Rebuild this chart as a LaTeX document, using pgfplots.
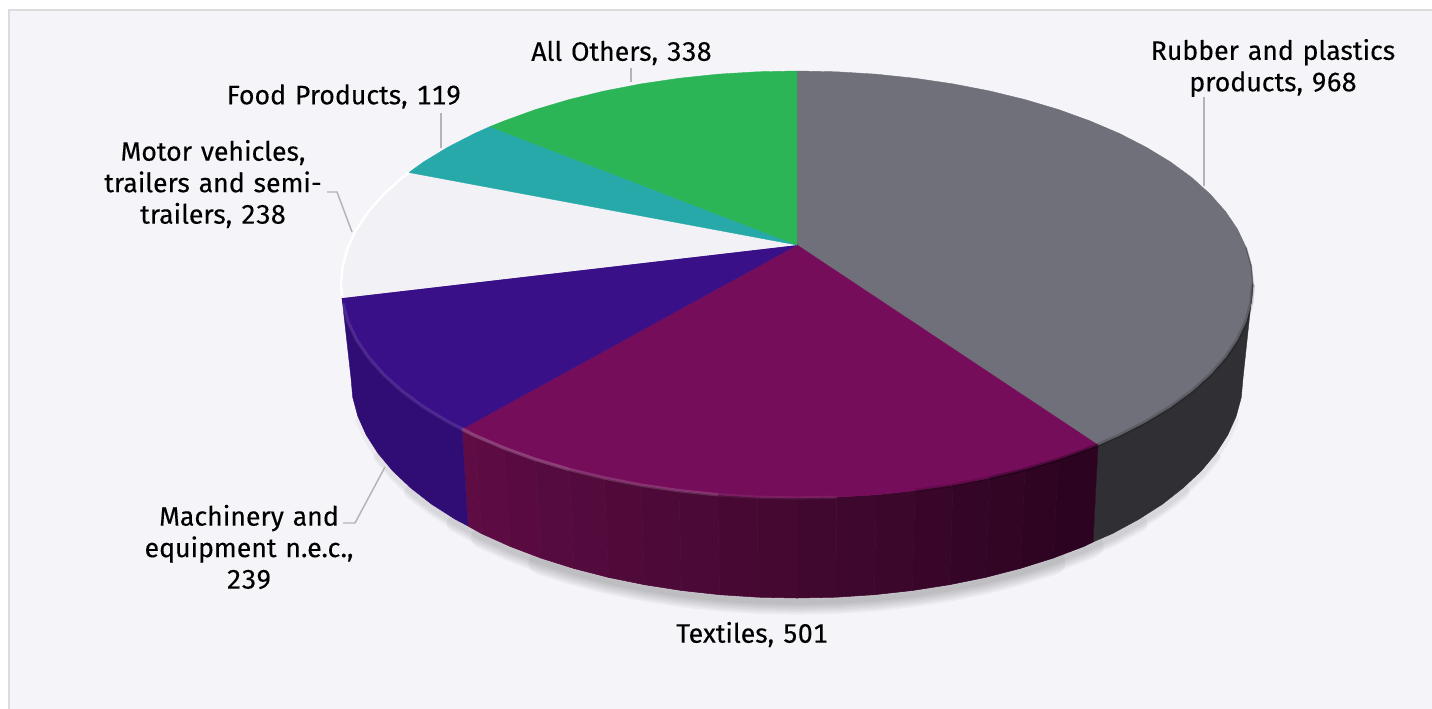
\documentclass[border=0pt]{standalone}
\usepackage{pgfplots}
\pgfplotsset{compat=1.18}
\usepackage{pgfplotstable}
\usepackage{fontspec}
\setmainfont[Numbers=Monospaced,WordSpace=1.25,FakeBold=0.2]{Fira Sans}
\definecolor{bg}{HTML}{F4F4F9}
\definecolor{frame}{HTML}{DCDCDF}
\definecolor{cgray}{HTML}{6F7079}
\definecolor{gside}{HTML}{303034}
\definecolor{ctex}{HTML}{750D5A}
\definecolor{cpur}{HTML}{3A1088}
\definecolor{cwhi}{HTML}{F1F1F6}
\definecolor{cteal}{HTML}{27A9AA}
\definecolor{cgreen}{HTML}{2CB557}
\definecolor{lead}{HTML}{B4B4B6}
\pgfplotstableread{
x y
1243 378
1241.3 397.2
1236.2 416.2
1227.8 434.9
1216.1 453.2
1201.2 471
1183 488
1162.4 504.2
1138.6 519.4
1112.4 533.6
1093 542
1083.7 546.5
1052.8 558.2
1020 568.5
985.5 577.4
949.5 584.7
912.4 590.5
874.4 594.7
835.9 597.2
797 598
758.1 597.2
719.6 594.7
681.6 590.5
644.5 584.7
608.5 577.4
574 568.5
541.2 558.2
510.3 546.5
481.6 533.6
468 526
455.4 519.4
431.6 504.2
410.8 488
392.8 471
377.9 453.2
366.2 434.9
357.8 416.2
352.7 397.2
351 378
}\bottomarc
\newcommand{\side}[2]{\addplot[fill=#1,draw=#1,line width=0.3pt] coordinates {#2} --cycle;}
\newcommand{\strip}[4]{\addplot[fill={rgb,255:red,#1;green,#2;blue,#3},draw={rgb,255:red,#1;green,#2;blue,#3},line width=0.4pt] coordinates {#4} --cycle;}
\newcommand{\shad}[3]{\addplot[draw=black,opacity=0.04,line width=#1pt,line cap=round,skip coords between index={0}{#2},skip coords between index={#3}{39}] table[x=x,y expr=\thisrow{y}+4] {\bottomarc};}
\begin{document}
\begin{tikzpicture}
\begin{axis}[
  scale only axis,width=1074pt,height=531.75pt,
  xmin=0,xmax=1432,ymin=0,ymax=709,y dir=reverse,
  hide axis,
]
% page and panel
\addplot[fill=white,draw=none] coordinates {(0,0)(1432,0)(1432,709)(0,709)} --cycle;
\addplot[fill=bg,draw=frame,line width=1.5pt] coordinates {(8.5,10.5)(1445,10.5)(1445,720)(8.5,720)} --cycle;
% soft shadow
\shad{19}{12}{27}\shad{16}{10}{29}\shad{13}{8}{31}\shad{10}{6}{33}\shad{7}{4}{35}\shad{4}{2}{37}
% gray side
\side{gside}{(1253,284.5)(1251.3,303.1)(1246.1,321.6)(1237.5,339.8)(1225.5,357.5)(1210.3,374.7)(1191.9,391.3)(1170.5,407)(1146.3,421.7)(1119.4,435.5)(1098,445)(1093,542)(1112.4,533.6)(1138.6,519.4)(1162.4,504.2)(1183,488)(1201.2,471)(1216.1,453.2)(1227.8,434.9)(1236.2,416.2)(1241.3,397.2)(1243,378)}
% textile side, strips from right to left
\strip{44}{4}{33}{(1098,445)(1090.1,448)(1058.6,459.4)(1052.8,558.2)(1083.7,546.5)(1093,542)}
\strip{47}{4}{35}{(1058.6,459.4)(1025,469.4)(1020,568.5)(1052.8,558.2)}
\strip{50}{5}{37}{(1025,469.4)(989.7,478)(985.5,577.4)(1020,568.5)}
\strip{53}{5}{39}{(989.7,478)(953,485.1)(949.5,584.7)(985.5,577.4)}
\strip{56}{6}{41}{(953,485.1)(915,490.7)(912.4,590.5)(949.5,584.7)}
\strip{59}{7}{43}{(915,490.7)(876.2,494.8)(874.4,594.7)(912.4,590.5)}
\strip{62}{7}{45}{(876.2,494.8)(836.7,497.2)(835.9,597.2)(874.4,594.7)}
\strip{65}{8}{47}{(836.7,497.2)(797,498)(797,598)(835.9,597.2)}
\strip{68}{8}{49}{(797,498)(757.3,497.2)(758.1,597.2)(797,598)}
\strip{71}{9}{52}{(757.3,497.2)(717.8,494.8)(719.6,594.7)(758.1,597.2)}
\strip{74}{9}{54}{(717.8,494.8)(679,490.7)(681.6,590.5)(719.6,594.7)}
\strip{77}{10}{56}{(679,490.7)(641,485.1)(644.5,584.7)(681.6,590.5)}
\strip{80}{10}{58}{(641,485.1)(604.3,478)(608.5,577.4)(644.5,584.7)}
\strip{83}{10}{60}{(604.3,478)(569,469.4)(574,568.5)(608.5,577.4)}
\strip{86}{11}{62}{(569,469.4)(535.4,459.4)(541.2,558.2)(574,568.5)}
\strip{89}{11}{65}{(535.4,459.4)(503.9,448)(510.3,546.5)(541.2,558.2)}
\strip{92}{11}{67}{(503.9,448)(474.6,435.5)(481.6,533.6)(510.3,546.5)}
\strip{95}{12}{69}{(474.6,435.5)(462,429)(468,526)(481.6,533.6)}
% purple side
\definecolor{pside}{HTML}{300C75}
\side{pside}{(462,429)(447.7,421.7)(423.5,407)(402.1,391.3)(383.7,374.7)(368.5,357.5)(356.5,339.8)(347.9,321.6)(342.7,303.1)(342,298)(351,378)(352.7,397.2)(357.8,416.2)(366.2,434.9)(377.9,453.2)(392.8,471)(410.8,488)(431.6,504.2)(455.4,519.4)(468,526)}
% top slices
\addplot[fill=cgray,draw=cgray,line width=0.3pt] coordinates {(797,245)(797,71)(836.7,71.8)(876.2,74.2)(915,78.3)(953,83.9)(989.7,91)(1025,99.6)(1058.6,109.6)(1090.1,121)(1119.4,133.5)(1146.3,147.3)(1170.5,162)(1191.9,177.7)(1210.3,194.3)(1225.5,211.5)(1237.5,229.2)(1246.1,247.4)(1251.3,265.9)(1253,284.5)(1251.3,303.1)(1246.1,321.6)(1237.5,339.8)(1225.5,357.5)(1210.3,374.7)(1191.9,391.3)(1170.5,407)(1146.3,421.7)(1119.4,435.5)(1098,445)} --cycle;
\addplot[fill=ctex,draw=ctex,line width=0.3pt] coordinates {(797,245)(1098,445)(1090.1,448)(1058.6,459.4)(1025,469.4)(989.7,478)(953,485.1)(915,490.7)(876.2,494.8)(836.7,497.2)(797,498)(757.3,497.2)(717.8,494.8)(679,490.7)(641,485.1)(604.3,478)(569,469.4)(535.4,459.4)(503.9,448)(474.6,435.5)(462,429)} --cycle;
\addplot[fill=cpur,draw=cpur,line width=0.3pt] coordinates {(797,245)(462,429)(447.7,421.7)(423.5,407)(402.1,391.3)(383.7,374.7)(368.5,357.5)(356.5,339.8)(347.9,321.6)(342.7,303.1)(342,298)} --cycle;
\addplot[fill=cwhi,draw=none] coordinates {(797,245)(342,298)(341,284.5)(342.7,265.9)(347.9,247.4)(356.5,229.2)(368.5,211.5)(383.7,194.3)(402.1,177.7)(409,172.5)} --cycle;
\addplot[fill=cteal,draw=cteal,line width=0.3pt] coordinates {(797,245)(409,172.5)(423.5,162)(447.7,147.3)(474.6,133.5)(490,126.6)} --cycle;
\addplot[fill=cgreen,draw=cgreen,line width=0.3pt] coordinates {(797,245)(490,126.6)(503.9,121)(535.4,109.6)(569,99.6)(604.3,91)(641,83.9)(679,78.3)(717.8,74.2)(757.3,71.8)(797,71)} --cycle;
% rims
\addplot[draw=white,line width=1.8pt] coordinates {(342,296)(341,284.5)(342.7,265.9)(347.9,247.4)(356.5,229.2)(368.5,211.5)(383.7,194.3)(402.1,177.7)(409,172.5)};
\addplot[draw=black,opacity=0.16,line width=3pt] coordinates {(1253,284.5)(1251.3,303.1)(1246.1,321.6)(1237.5,339.8)(1225.5,357.5)(1210.3,374.7)(1191.9,391.3)(1170.5,407)(1146.3,421.7)(1119.4,435.5)(1098,445)};
\addplot[draw=black,opacity=0.25,line width=1.2pt] coordinates {(1246.1,247.4)(1251.3,265.9)(1253,284.5)(1251.3,303.1)};
\addplot[draw=black,opacity=0.30,line width=2.5pt] coordinates {(1098,445)(1090.1,448)(1058.6,459.4)(1025,469.4)(989.7,478)};
\addplot[draw=black,opacity=0.16,line width=2.5pt] coordinates {(989.7,478)(953,485.1)(915,490.7)};
\addplot[draw=white,opacity=0.06,line width=2.5pt] coordinates {(836.7,497.2)(797,498)(757.3,497.2)(717.8,494.8)};
\addplot[draw=white,opacity=0.15,line width=2.5pt] coordinates {(717.8,494.8)(679,490.7)(641,485.1)(604.3,478)(569,469.4)};
\addplot[draw=white,opacity=0.2,line width=2.5pt] coordinates {(569,469.4)(535.4,459.4)(503.9,448)(474.6,435.5)(462,429)};
\addplot[draw=white,opacity=0.1,line width=2.5pt] coordinates {(462,429)(447.7,421.7)(423.5,407)(402.1,391.3)(383.7,374.7)(368.5,357.5)(356.5,339.8)(347.9,321.6)(342.7,303.1)};
% leader lines
\addplot[draw=lead,line width=1.1pt] coordinates {(1204,97)(1204,186)};
\addplot[draw=lead,line width=1.1pt] coordinates {(631,68)(631,82)};
\addplot[draw=lead,line width=1.1pt] coordinates {(441,113)(441,148)};
\addplot[draw=lead,line width=1.1pt] coordinates {(327,192)(337,192)(352,232)};
\addplot[draw=lead,line width=1.1pt] coordinates {(343,523)(355,523)(385,467)};
% labels
\begin{scope}[every node/.style={font=\fontsize{20pt}{23.6pt}\selectfont,align=center,text=black,inner sep=0pt}]
\node at (axis cs:1273,68) {Rubber and plastics\\products, 968};
\node at (axis cs:621.5,53) {All Others, 338};
\node at (axis cs:344,96.5) {Food Products, 119};
\node at (axis cs:213,184) {Motor vehicles,\\trailers and semi-\\trailers, 238};
\node at (axis cs:249,547) {Machinery and\\equipment n.e.c.,\\239};
\node at (axis cs:752,634.5) {Textiles, 501};
\end{scope}
\end{axis}
\end{tikzpicture}
\end{document}
